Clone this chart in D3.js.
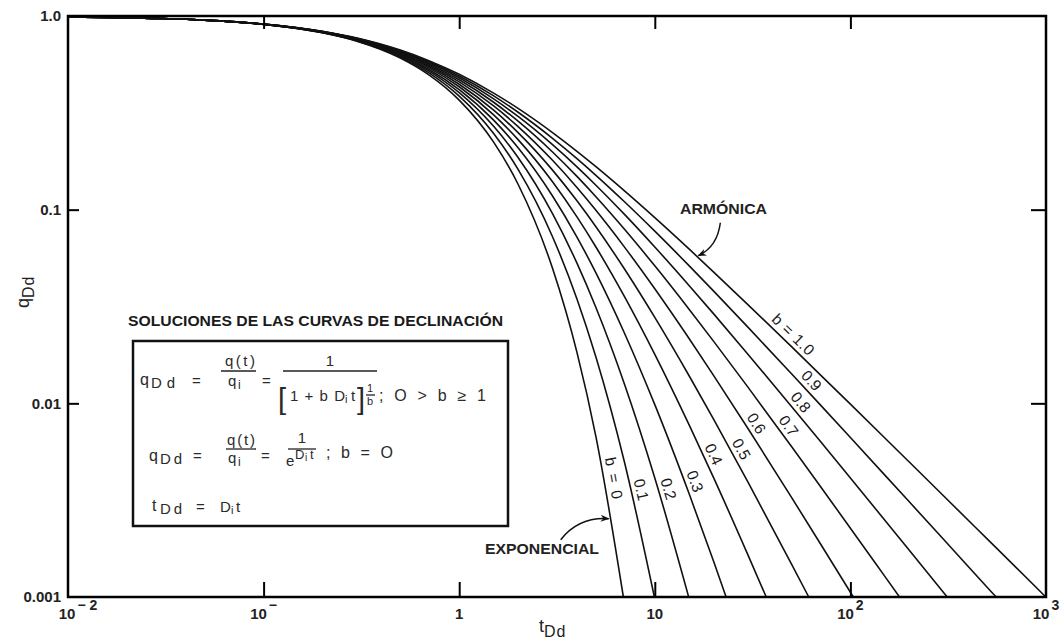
<!DOCTYPE html>
<html>
<head>
<meta charset="utf-8">
<script src="https://cdn.jsdelivr.net/npm/d3@7"></script>
<style>
  html, body { margin: 0; padding: 0; background: #fff; }
  svg { display: block; font-family: "Liberation Sans", Arial, Helvetica, sans-serif; }
</style>
</head>
<body>
<svg id="chart" width="1063" height="642"></svg>
<script>
// Dimensionless time grid shared by all decline curves
const tDd = [0.01, 0.03, 0.05, 0.1, 0.2, 0.3, 0.5, 0.7, 1, 1.5, 2, 3, 4, 5, 7, 10, 15, 20, 30, 50, 70, 100, 150, 200, 300, 500, 700];

// q_Dd values per decline exponent b (each list runs along tDd until the curve leaves the chart)
const qB00 = [0.9900, 0.9704, 0.9512, 0.9048, 0.8187, 0.7408, 0.6065, 0.4966, 0.3679, 0.2231, 0.1353, 0.04979, 0.01832, 0.006738];
const qB01 = [0.9900, 0.9705, 0.9514, 0.9053, 0.8203, 0.7441, 0.6139, 0.5084, 0.3855, 0.2472, 0.1615, 0.0725, 0.03457, 0.01734, 0.00496];
const qB02 = [0.9900, 0.9705, 0.9515, 0.9057, 0.8219, 0.7473, 0.6209, 0.5194, 0.4019, 0.2693, 0.1859, 0.0954, 0.05292, 0.03125, 0.01256, 0.00412];
const qB03 = [0.9900, 0.9706, 0.9516, 0.9062, 0.8235, 0.7503, 0.6276, 0.5297, 0.4171, 0.2898, 0.2087, 0.1177, 0.07221, 0.04716, 0.02302, 0.009843, 0.00340, 0.001524];
const qB04 = [0.9900, 0.9706, 0.9517, 0.9066, 0.8250, 0.7533, 0.6339, 0.5395, 0.4312, 0.3088, 0.2300, 0.1393, 0.09174, 0.06415, 0.03553, 0.01789, 0.00771, 0.00412, 0.001641];
const qB05 = [0.9901, 0.9707, 0.9518, 0.9070, 0.8264, 0.7561, 0.6400, 0.5487, 0.4444, 0.3265, 0.2500, 0.1600, 0.1111, 0.08163, 0.04938, 0.02778, 0.01384, 0.008264, 0.003906, 0.001479];
const qB06 = [0.9901, 0.9707, 0.9519, 0.9075, 0.8279, 0.7589, 0.6458, 0.5574, 0.4569, 0.3431, 0.2687, 0.1798, 0.13008, 0.0992, 0.06407, 0.03904, 0.02154, 0.01391, 0.00739, 0.003269, 0.001895, 0.001058];
const qB07 = [0.9901, 0.9708, 0.9521, 0.9079, 0.8293, 0.7616, 0.6513, 0.5657, 0.4686, 0.3586, 0.2863, 0.1986, 0.14851, 0.11664, 0.07921, 0.05127, 0.03053, 0.02089, 0.01209, 0.00598, 0.00374, 0.002267, 0.001278];
const qB08 = [0.9901, 0.9708, 0.9522, 0.9083, 0.8307, 0.7642, 0.6567, 0.5736, 0.4796, 0.3732, 0.3029, 0.2166, 0.16632, 0.13375, 0.09453, 0.06415, 0.04051, 0.02897, 0.01789, 0.009639, 0.006385, 0.004115, 0.002492, 0.001744, 0.001053];
const qB09 = [0.9901, 0.9709, 0.9523, 0.9087, 0.8320, 0.7668, 0.6618, 0.5811, 0.4901, 0.3870, 0.3185, 0.2337, 0.18348, 0.15045, 0.10984, 0.07743, 0.05124, 0.03795, 0.02466, 0.01421, 0.009843, 0.006657, 0.00426, 0.003101, 0.00198, 0.001124];
const qB10 = [0.9901, 0.9709, 0.9524, 0.9091, 0.8333, 0.7692, 0.6667, 0.5882, 0.5000, 0.4000, 0.3333, 0.2500, 0.2000, 0.1667, 0.1250, 0.09091, 0.0625, 0.04762, 0.03226, 0.01961, 0.01408, 0.009901, 0.006623, 0.004975, 0.003322, 0.001996, 0.001427];

// tDd where each curve reaches q_Dd = 0.001
const tEnd = [6.908, 9.95, 14.9, 23.14, 37.12, 61.25, 103.5, 178.4, 312.7, 555.8, 999];

const bValues = [0, 0.1, 0.2, 0.3, 0.4, 0.5, 0.6, 0.7, 0.8, 0.9, 1.0];
const curveLabels = ["b = 0", "0.1", "0.2", "0.3", "0.4", "0.5", "0.6", "0.7", "0.8", "0.9", "b = 1.0"];
const labelT = [5.5, 7.6, 10.5, 14.4, 18, 25, 30, 44, 51, 58, 47];

const xTicks = [0.01, 0.1, 1, 10, 100, 1000];
const xTickBase = ["10", "10", "1", "10", "10", "10"];
const xTickExp = ["\u2212 2", "\u2212", "", "", "2", "3"];
const yTicks = [1, 0.1, 0.01, 0.001];
const yTickLabels = ["1.0", "0.1", "0.01", "0.001"];

const qSeries = [qB00, qB01, qB02, qB03, qB04, qB05, qB06, qB07, qB08, qB09, qB10];

const svg = d3.select("#chart");
const plotLeft = 68, plotRight = 1046, plotTop = 16, plotBottom = 597;

const x = d3.scaleLog().domain([0.01, 1000]).range([plotLeft, plotRight]);
const y = d3.scaleLog().domain([0.001, 1]).range([plotBottom, plotTop]);

// ---- decline curves ----
const line = d3.line()
  .x(d => x(d.t))
  .y(d => y(d.q))
  .curve(d3.curveMonotoneX);

const series = qSeries.map((qs, i) => {
  const pts = qs.map((q, j) => ({ t: tDd[j], q }));
  pts.push({ t: tEnd[i], q: 0.001 });
  return pts;
});

const curves = svg.append("g").attr("class", "curves");
const paths = series.map(pts =>
  curves.append("path")
    .datum(pts)
    .attr("d", line)
    .attr("fill", "none")
    .attr("stroke", "#111")
    .attr("stroke-width", 1.6)
    .node()
);

// locate a point (and tangent angle) on a curve at a given screen x
function pointAtX(node, tx) {
  let lo = 0, hi = node.getTotalLength();
  for (let k = 0; k < 40; k++) {
    const mid = (lo + hi) / 2;
    if (node.getPointAtLength(mid).x < tx) lo = mid; else hi = mid;
  }
  const L = (lo + hi) / 2;
  const p = node.getPointAtLength(L);
  const a = node.getPointAtLength(Math.max(0, L - 3));
  const b = node.getPointAtLength(L + 3);
  return { x: p.x, y: p.y, angle: Math.atan2(b.y - a.y, b.x - a.x) };
}

// ---- curve labels along each line ----
const labelG = svg.append("g").attr("class", "curve-labels");
curveLabels.forEach((txt, i) => {
  const p = pointAtX(paths[i], x(labelT[i]));
  const d = 10;
  const cx = p.x + d * Math.sin(p.angle);
  const cy = p.y - d * Math.cos(p.angle);
  const deg = p.angle * 180 / Math.PI;
  const t = labelG.append("text")
    .attr("transform", `translate(${cx},${cy}) rotate(${deg})`)
    .attr("text-anchor", "middle")
    .attr("dy", "0.35em")
    .attr("font-size", 15.5)
    .attr("fill", "#1a1a1a")
    .text(txt);
  if (txt.length > 4) t.attr("textLength", txt === "b = 0" ? 42 : 52).attr("lengthAdjust", "spacing");
});

// ---- frame and ticks ----
svg.append("rect")
  .attr("x", plotLeft).attr("y", plotTop)
  .attr("width", plotRight - plotLeft).attr("height", plotBottom - plotTop)
  .attr("fill", "none").attr("stroke", "#000").attr("stroke-width", 2.5);

function styleAxis(g) {
  g.select(".domain").remove();
  g.selectAll(".tick line").attr("stroke", "#000").attr("stroke-width", 2);
  g.selectAll(".tick text").remove();
}
svg.append("g").attr("transform", `translate(0,${plotBottom})`)
  .call(d3.axisBottom(x).tickValues([0.1, 1, 10, 100]).tickSize(-15).tickFormat(""))
  .call(styleAxis);
svg.append("g").attr("transform", `translate(0,${plotTop})`)
  .call(d3.axisTop(x).tickValues([0.1, 1, 10, 100]).tickSize(-13).tickFormat(""))
  .call(styleAxis);
svg.append("g").attr("transform", `translate(${plotLeft},0)`)
  .call(d3.axisLeft(y).tickValues([0.1, 0.01]).tickSize(-11).tickFormat(""))
  .call(styleAxis);
svg.append("g").attr("transform", `translate(${plotRight},0)`)
  .call(d3.axisRight(y).tickValues([0.1, 0.01]).tickSize(-15).tickFormat(""))
  .call(styleAxis);

// ---- tick labels ----
yTicks.forEach((v, i) => {
  svg.append("text")
    .attr("x", plotLeft - 7)
    .attr("y", y(v))
    .attr("dy", "0.36em")
    .attr("text-anchor", "end")
    .attr("font-size", 15)
    .attr("font-weight", "bold")
    .attr("fill", "#222")
    .text(yTickLabels[i]);
});

xTicks.forEach((v, i) => {
  const t = svg.append("text")
    .attr("x", x(v) + (i === 0 ? 10 : 0))
    .attr("y", 619)
    .attr("text-anchor", "middle")
    .attr("font-size", 15)
    .attr("font-weight", "bold")
    .attr("fill", "#222");
  t.append("tspan").text(xTickBase[i]);
  if (xTickExp[i]) {
    t.append("tspan").attr("dx", 2).attr("dy", -9).attr("font-size", 14).text(xTickExp[i]);
  }
});

// ---- axis titles ----
const xt = svg.append("text")
  .attr("x", 539).attr("y", 632)
  .attr("font-size", 18).attr("fill", "#222");
xt.append("tspan").text("t");
xt.append("tspan").attr("dy", 5).attr("font-size", 16).attr("letter-spacing", 1).text("Dd");

const yt = svg.append("text")
  .attr("transform", "translate(29,308) rotate(-90)")
  .attr("font-size", 18).attr("fill", "#222");
yt.append("tspan").text("q");
yt.append("tspan").attr("dy", 5).attr("font-size", 16).attr("letter-spacing", 1).text("Dd");

// ---- named curve annotations with arrows ----
const defs = svg.append("defs");
defs.append("marker")
  .attr("id", "arrowhead")
  .attr("viewBox", "0 0 10 10")
  .attr("refX", 9).attr("refY", 5)
  .attr("markerWidth", 9).attr("markerHeight", 9)
  .attr("markerUnits", "userSpaceOnUse")
  .attr("orient", "auto")
  .append("path")
  .attr("d", "M0,1 L10,5 L0,9 L3,5 Z")
  .attr("fill", "#111");

const harm = pointAtX(paths[10], x(16.5));
svg.append("path")
  .attr("d", `M${harm.x + 23},${harm.y - 34} Q${harm.x + 20},${harm.y - 10} ${harm.x + 1},${harm.y - 1}`)
  .attr("fill", "none").attr("stroke", "#111").attr("stroke-width", 1.5)
  .attr("marker-end", "url(#arrowhead)");
svg.append("text")
  .attr("x", 680).attr("y", 214)
  .attr("font-size", 15).attr("font-weight", "bold").attr("fill", "#222")
  .attr("textLength", 87).attr("lengthAdjust", "spacingAndGlyphs")
  .text("ARMÓNICA");

const expo = pointAtX(paths[0], x(5.95));
svg.append("path")
  .attr("d", `M${expo.x - 50},${expo.y + 21} Q${expo.x - 32},${expo.y - 2} ${expo.x - 2},${expo.y}`)
  .attr("fill", "none").attr("stroke", "#111").attr("stroke-width", 1.5)
  .attr("marker-end", "url(#arrowhead)");
svg.append("text")
  .attr("x", 485).attr("y", 554)
  .attr("font-size", 15).attr("font-weight", "bold").attr("fill", "#222")
  .attr("textLength", 114).attr("lengthAdjust", "spacingAndGlyphs")
  .text("EXPONENCIAL");

// ---- solutions box ----
svg.append("text")
  .attr("x", 128).attr("y", 326)
  .attr("font-size", 15).attr("font-weight", "bold").attr("fill", "#1a1a1a")
  .attr("textLength", 375).attr("lengthAdjust", "spacingAndGlyphs")
  .text("SOLUCIONES DE LAS CURVAS DE DECLINACIÓN");

svg.append("rect")
  .attr("x", 133).attr("y", 341).attr("width", 375).attr("height", 185)
  .attr("fill", "none").attr("stroke", "#111").attr("stroke-width", 2.5);

const f = svg.append("g").attr("font-size", 15).attr("fill", "#2a2a2a");
function txt(xp, yp, s, opts = {}) {
  const t = f.append("text").attr("x", xp).attr("y", yp).text(s);
  if (opts.size) t.attr("font-size", opts.size);
  if (opts.anchor) t.attr("text-anchor", opts.anchor);
  if (opts.len) t.attr("textLength", opts.len).attr("lengthAdjust", "spacing");
  return t;
}
function bar(x1, x2, yy) {
  f.append("line").attr("x1", x1).attr("x2", x2).attr("y1", yy).attr("y2", yy)
    .attr("stroke", "#222").attr("stroke-width", 1.3);
}

// first solution: hyperbolic
txt(140, 385, "q", { size: 16 });
txt(151, 388, "Dd", { size: 15, len: 24 });
txt(192, 386, "=");
txt(225, 366, "q(t)", { len: 30 });
bar(221, 256, 371);
txt(228, 386, "q");
txt(238, 389, "i", { size: 12 });
txt(262, 386, "=");
txt(330, 366, "1", { anchor: "middle" });
bar(283, 377, 371);
txt(278, 409, "[", { size: 29 });
txt(290, 401, "1 + b  D", { len: 55 });
txt(345, 403, "i", { size: 11 });
txt(351, 401, "t");
txt(357, 409, "]", { size: 29 });
txt(370, 392, "1", { size: 11, anchor: "middle" });
bar(366, 375, 395);
txt(370, 405, "b", { size: 11, anchor: "middle" });
txt(379, 401, "; O > b \u2265 1", { size: 16, len: 107 });

// second solution: exponential
txt(149, 461, "q", { size: 16 });
txt(160, 464, "Dd", { size: 15, len: 22 });
txt(193, 461, "=");
txt(227, 445, "q(t)", { len: 28 });
bar(226, 256, 449);
txt(228, 463, "q");
txt(238, 466, "i", { size: 12 });
txt(261, 461, "=");
txt(302, 443, "1", { anchor: "middle" });
bar(288, 316, 449);
txt(286, 466, "e");
txt(295, 459, "D", { size: 13 });
txt(305, 461, "i", { size: 10 });
txt(310, 459, "t", { size: 13 });
txt(326, 458, ";  b  =  O", { size: 16, len: 67 });

// third: dimensionless time
txt(152, 511, "t", { size: 16 });
txt(160, 514, "Dd", { size: 15, len: 22 });
txt(196, 512, "=");
txt(220, 512, "D");
txt(231, 514, "i", { size: 11 });
txt(236, 512, "t");
</script>
</body>
</html>
